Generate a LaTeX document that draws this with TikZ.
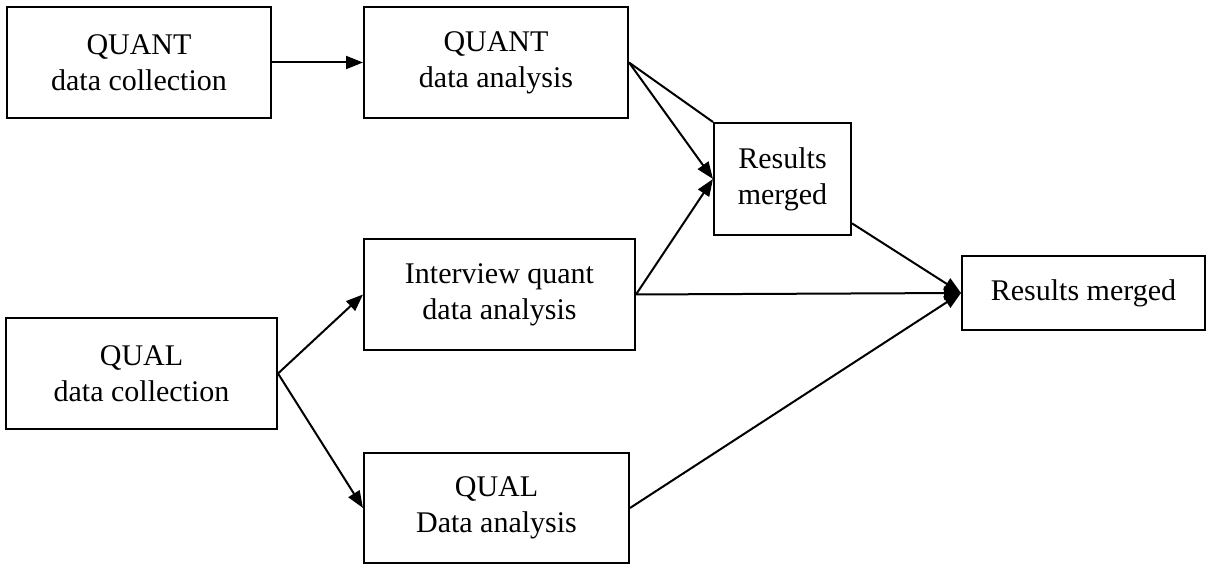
\documentclass[tikz,border=0pt]{standalone}
\usepackage{fontspec}
\setmainfont{Liberation Serif}
\usetikzlibrary{arrows.meta}
\tikzset{khung/.style={draw,line width=1pt,inner sep=0pt,align=center,
		font=\fontsize{15}{18}\selectfont},
	mui/.style={-{Triangle[length=8.5pt,width=6.5pt]}}}
\begin{document}
\begin{tikzpicture}[x=0.5pt,y=-0.5pt,line width=1pt]
				\useasboundingbox (0,0) rectangle (1207,565);
				\foreach \x/\xa/\ya/\xb/\yb/\t in {QC/7/7/271/118/{QUANT\\data collection},
					QA/364/7/628/118/{QUANT\\data analysis},
					R/714/123/851/235/{Results\\merged},
					I/364/239/635/350/{Interview quant\\data analysis},
					M/962/256/1205/330/{Results merged},
					LC/6/318/277/429/{QUAL\\data collection},
					LA/364/453/629/563/{QUAL\\Data analysis}}{
					\node[khung,minimum width={(\xb-\xa)*0.5pt},minimum height={(\yb-\ya)*0.5pt}]
					(\x) at ({(\xa+\xb)/2},{(\ya+\yb)/2}) {\t};
				}
				\draw (QA.east)--(R.north west);
				\draw[mui] (QC)--(QA);
				\draw[mui] (QA.east)--(R.west);
				\draw[mui] (I.east)--(R.west);
				\draw[mui] (I.east)--(M.west);
				\draw[mui] (R)--(M.west);
				\draw[mui] (LC.east)--(I.west);
				\draw[mui] (LC.east)--(LA.west);
				\draw[mui] (LA.east)--(M.west);
			\end{tikzpicture}
\end{document}
